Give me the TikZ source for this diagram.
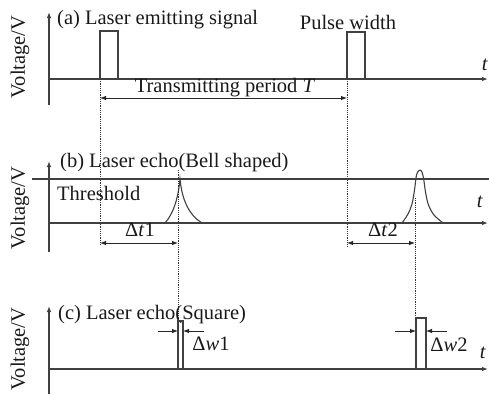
\documentclass[tikz,border=0pt]{standalone}
\usepackage{fontspec}
\setmainfont{Liberation Serif}
\usetikzlibrary{arrows.meta}
\begin{document}
\begin{tikzpicture}[x=1pt,y=-1pt,
 ln/.style={line width=1.1pt, draw=black!75},
 ax/.style={ln,-{Latex[length=6pt,width=4.5pt]}},
 dimarr/.style={line width=0.9pt,draw=black!85,{Latex[length=6pt,width=4.5pt]}-{Latex[length=6pt,width=4.5pt]}},
 onearr/.style={line width=0.9pt,draw=black!85,-{Latex[length=6pt,width=4.5pt]}},
 dots/.style={line width=1pt, dash pattern=on 1.2pt off 1pt, draw=black!80},
 lbl/.style={font=\fontsize{20.5}{23}\selectfont, inner sep=0pt, text=black!90},
]
\useasboundingbox (0,0) rectangle (489,394);
% ---------- panel (a)
\coordinate (aB) at (49,105);
\coordinate (aT) at (49,12);
\coordinate (aO) at (48,79);
\coordinate (aE) at (488,79);
\draw[ax] (aB) -- (aT);
\draw[ax] (aO) -- (aE);
\coordinate (p1l) at (100,79); \coordinate (p1r) at (118,79);
\coordinate (p2l) at (347,79); \coordinate (p2r) at (365,79);
\draw[ln] (p1l) -- ++(0,-48) -- ++(18,0) -- (p1r);
\draw[ln] (p2l) -- ++(0,-47) -- ++(18,0) -- (p2r);
\node[lbl,anchor=west] (ta) at (57,20) {(a) Laser emitting signal};
\node[lbl] (pw) at (348,22) {Pulse width};
\node[lbl] (ya) at (485,65) {\textit{t}};
\node[lbl,rotate=90] (va) at (20,57) {Voltage/V};
\coordinate (Tl) at (100,98); \coordinate (Tr) at (347,98);
\draw[dimarr] (Tl) -- (Tr);
\node[lbl] (tp) at (225,88) {Transmitting period \textit{T}};
% dotted verticals
\coordinate (d1b) at (100,246);
\coordinate (d2b) at (347,248);
\draw[dots] (p1l) -- (d1b);
\draw[dots] (p2l) -- (d2b);
% ---------- panel (b)
\coordinate (bB) at (49,252);
\coordinate (bT) at (49,161);
\coordinate (bO) at (48,223);
\coordinate (bE) at (488,223);
\coordinate (thL) at (32,179);
\coordinate (thR) at (489,179);
\draw[ax] (bB) -- (bT);
\draw[ax] (bO) -- (bE);
\draw[ln] (thL) -- (thR);
\node[lbl,anchor=west] (tb) at (60,163) {(b) Laser echo(Bell shaped)};
\node[lbl,anchor=west] (th) at (57,193) {Threshold};
\node[lbl] (yb) at (480,202) {\textit{t}};
\node[lbl,rotate=90] (vb) at (20,208) {Voltage/V};
\coordinate (b1l) at (165,223); \coordinate (b1p) at (180,179); \coordinate (b1r) at (202,223);
\draw[ln] (b1l) .. controls (173,214) and (178,200) .. (b1p)
          .. controls (182,200) and (189,215) .. (b1r);
\draw[ln] plot[smooth,tension=0.55] coordinates {(402,223) (408,214) (412,204) (414.5,190) (416.5,175) (419,170.5) (421.5,171) (423.5,178) (425.5,192) (428.5,205) (434,215) (443,223)};
\coordinate (d3t) at (178,170); \coordinate (d3b) at (178,321);
\coordinate (d4t) at (415,198); \coordinate (d4b) at (415,318);
\draw[dots] (d3t) -- (d3b);
\draw[dots] (d4t) -- (d4b);
\coordinate (t1l) at (100,243); \coordinate (t1r) at (178,243);
\coordinate (t2l) at (347,243); \coordinate (t2r) at (415,243);
\draw[dimarr] (t1l) -- (t1r);
\draw[dimarr] (t2l) -- (t2r);
\node[lbl] (dt1) at (140,230) {Δ\textit{t}1};
\node[lbl] (dt2) at (383,230) {Δ\textit{t}2};
% ---------- panel (c)
\coordinate (cB) at (49,394);
\coordinate (cT) at (49,306);
\coordinate (cO) at (48,369);
\coordinate (cE) at (488,369);
\draw[ax] (cB) -- (cT);
\draw[ax] (cO) -- (cE);
\node[lbl,anchor=west] (tc) at (58,315) {(c) Laser echo(Square)};
\node[lbl] (yc) at (483,353) {\textit{t}};
\node[lbl,rotate=90] (vc) at (20,349) {Voltage/V};
\coordinate (s1l) at (178,369); \coordinate (s1r) at (183,369);
\coordinate (s2l) at (416,369); \coordinate (s2r) at (426,369);
\draw[ln] (s1l) -- ++(0,-48) -- ++(5,0) -- (s1r);
\draw[ln] (s2l) -- ++(0,-51) -- ++(10,0) -- (s2r);
\coordinate (w1a) at (158,331); \coordinate (w1b) at (178,331);
\coordinate (w1c) at (204,331); \coordinate (w1d) at (183,331);
\coordinate (w2a) at (395,331); \coordinate (w2b) at (416,331);
\coordinate (w2c) at (447,331); \coordinate (w2d) at (426,331);
\draw[onearr] (w1a) -- (w1b);
\draw[onearr] (w1c) -- (w1d);
\draw[onearr] (w2a) -- (w2b);
\draw[onearr] (w2c) -- (w2d);
\node[lbl] (dw1) at (211,344) {Δ\textit{w}1};
\node[lbl] (dw2) at (449,345) {Δ\textit{w}2};
\end{tikzpicture}
\end{document}
